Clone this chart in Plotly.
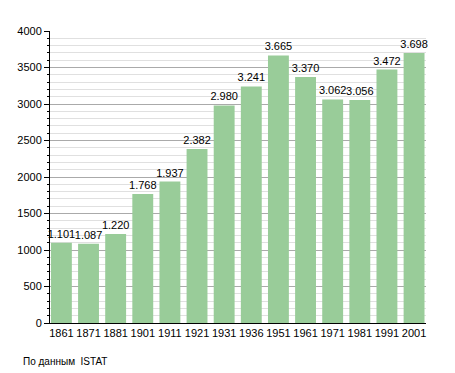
import plotly.graph_objects as go

years = ["1861", "1871", "1881", "1901", "1911", "1921", "1931", "1936", "1951", "1961", "1971", "1981", "1991", "2001"]
population = [1101, 1087, 1220, 1768, 1937, 2382, 2980, 3241, 3665, 3370, 3062, 3056, 3472, 3698]
labels = [f"{v:,}".replace(",", ".") for v in population]

fig = go.Figure()
fig.add_trace(go.Bar(
    x=years, y=population, text=labels, textposition="outside",
    constraintext="none",
    textfont=dict(family="Liberation Sans, Arial", size=11, color="#000"),
    marker=dict(color="#99cc99", line=dict(width=0)),
    width=0.77, cliponaxis=False, hoverinfo="skip",
))
fig.update_layout(
    width=455, height=373,
    margin=dict(l=50, r=29, t=31, b=50),
    paper_bgcolor="white", plot_bgcolor="white",
    showlegend=False,
    font=dict(family="Liberation Sans, Arial", size=11, color="#000"),
    xaxis=dict(type="category", range=[-0.42, 13.44], showline=True, linecolor="#000",
               linewidth=1, ticks="", showgrid=False, tickfont=dict(size=11)),
    yaxis=dict(range=[0, 4000], dtick=500, showline=True, linecolor="#000", linewidth=1,
               ticks="outside", ticklen=5, tickcolor="#000", gridcolor="#aaaaaa", gridwidth=1,
               zeroline=False, tickfont=dict(size=11),
               minor=dict(dtick=100, showgrid=True, gridcolor="#e0e0e0", ticks="outside",
                          ticklen=2, tickcolor="#000")),
)
fig.add_annotation(text="По данным  ISTAT", xref="paper", yref="paper",
                   x=-29/376, y=-38/292, xanchor="left", yanchor="middle",
                   showarrow=False, font=dict(size=10))
fig.write_html("out.html", config={"displayModeBar": False},
               post_script="document.body.style.margin='0';document.body.style.padding='0';")
